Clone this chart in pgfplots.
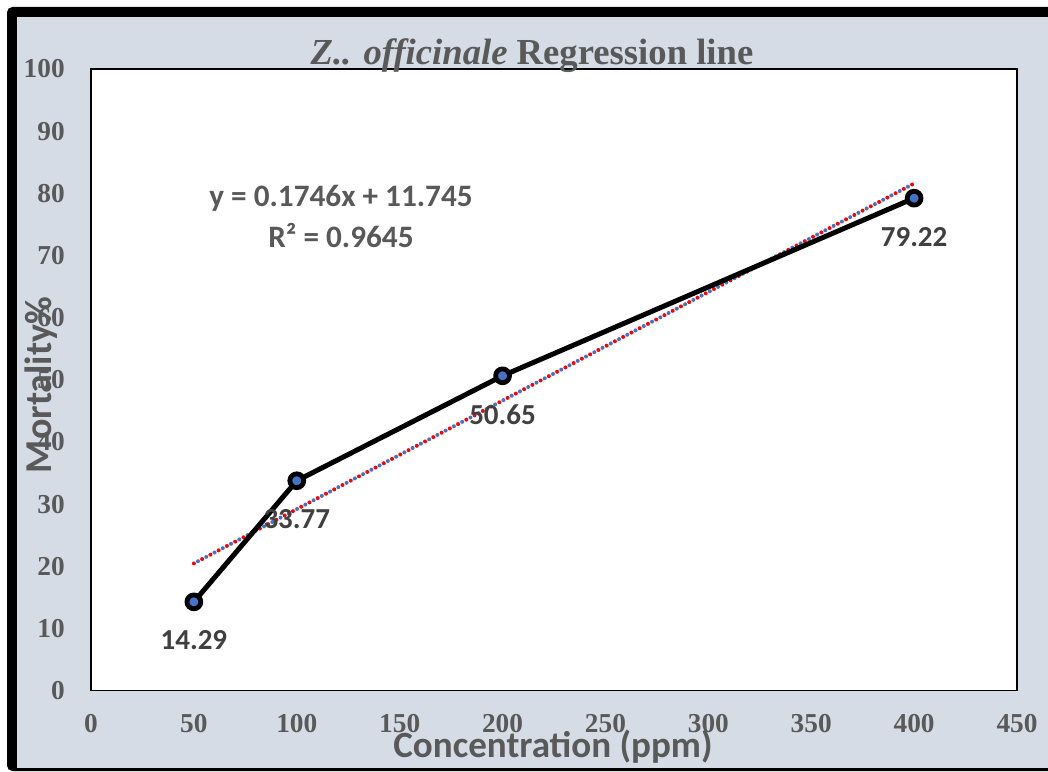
\documentclass[border=0pt]{standalone}
\usepackage{pgfplots}
\pgfplotsset{compat=1.18}
\usepackage{fontspec}
\setmainfont{Liberation Serif}
\newfontfamily\carlito{Carlito}

\definecolor{bgframe}{HTML}{D6DCE5}
\definecolor{ticktext}{HTML}{595959}
\definecolor{lbltext}{HTML}{404040}
\definecolor{ptblue}{HTML}{4472C4}

\begin{document}
\begin{tikzpicture}[x=0.75pt,y=0.75pt]
\useasboundingbox (0,0) rectangle (1048,771);
% outer frame
\fill[white] (0,0) rectangle (1048,771);
\fill[black, rounded corners=4pt] (7,0) rectangle (1060,764);
\fill[bgframe] (17,3) rectangle (1048,754);
\coordinate (origin) at (91,80.3);

\begin{axis}[
  at={(origin)}, anchor=south west,
  width=694.5pt, height=466.3pt,
  scale only axis,
  xmin=0, xmax=450, ymin=0, ymax=100,
  xtick={0,50,...,450}, ytick={0,10,...,100},
  major tick length=0pt,
  axis background/.style={fill=white},
  axis line style={draw=black, line width=0.9pt},
  ticklabel style={font=\bfseries\fontsize{20.5pt}{20.5pt}\selectfont, text=ticktext,
    /pgf/number format/assume math mode=true},
  yticklabel style={anchor=east, inner sep=0pt, xshift=-19.5pt},
  xticklabel style={anchor=center, inner sep=0pt, yshift=-25pt},
  clip=false,
]
% linear trendline (two overlaid dotted copies)
\addplot[red, line width=3pt, line cap=round, dash pattern=on 0pt off 7pt]
  coordinates {(50,20.475) (400,81.585)};
\addplot[ptblue, line width=3pt, line cap=round, dash pattern=on 0pt off 7pt, dash phase=3.5pt]
  coordinates {(50,20.475) (400,81.585)};
% data series
\addplot[black, line width=3.75pt, line join=round,
  mark=*, mark size=5.2pt,
  mark options={draw=black, fill=ptblue, line width=3.6pt},
  nodes near coords,
  every node near coord/.style={anchor=center, yshift=-29pt,
    font=\carlito\bfseries\fontsize{21.75pt}{21.75pt}\selectfont, text=lbltext},
  point meta=explicit symbolic]
  coordinates {(50,14.29) [14.29] (100,33.77) [33.77] (200,50.65) [50.65] (400,79.22) [79.22]};
\end{axis}

% title
\node[anchor=base, text=ticktext, font=\bfseries\fontsize{27.5pt}{27.5pt}\selectfont]
  at (532,706) {\textit{Z.. officinale} Regression line};
% equation
\node[text=ticktext, font=\carlito\bfseries\fontsize{23.4pt}{23.4pt}\selectfont] at (341,573) {y = 0.1746x + 11.745};
\node[text=ticktext, font=\carlito\bfseries\fontsize{23.4pt}{23.4pt}\selectfont] at (341,536) {R² = 0.9645};
% axis titles
\node[anchor=base, text=ticktext, font=\carlito\bfseries\fontsize{27.8pt}{27.8pt}\selectfont]
  at (553,14) {Concentration (ppm)};
\node[rotate=90, text=ticktext, font=\carlito\bfseries\fontsize{28.5pt}{28.5pt}\selectfont]
  at (41,386) {Mortality\%};
\end{tikzpicture}
\end{document}
